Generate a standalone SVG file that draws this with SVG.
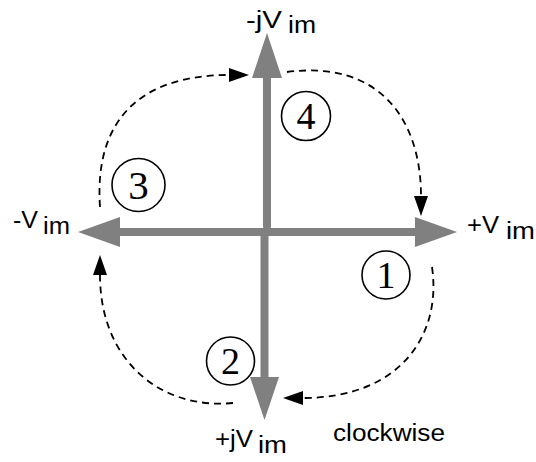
<svg xmlns="http://www.w3.org/2000/svg" width="536" height="462" viewBox="0 0 536 462">
<style>
.lbl{font-family:"Liberation Sans",Arial,sans-serif;font-size:23px;fill:#000}
.num{font-family:"Liberation Serif","Times New Roman",serif;font-size:38px;fill:#000;text-anchor:middle}
.ring{fill:none;stroke:#000;stroke-width:1.6}
.axis{stroke:#808080;stroke-width:8;fill:none}
.head{fill:#808080}
.dash{fill:none;stroke:#000;stroke-width:1.8;stroke-dasharray:7,5;marker-end:url(#ah)}
</style>
<defs>
<marker id="ah" viewBox="0 0 20 14" refX="0" refY="7" markerWidth="20" markerHeight="15" markerUnits="userSpaceOnUse" orient="auto">
<path d="M0,0 L20,7 L0,14 z" fill="#000"/>
</marker>
</defs>
<g id="axes">
<line class="axis" x1="118" y1="232" x2="417" y2="232"/>
<polygon class="head" points="78,232 120,217 120,247"/>
<polygon class="head" points="457,232 415,217 415,247"/>
<line class="axis" x1="267" y1="226" x2="267" y2="76" stroke-linecap="round"/>
<polygon class="head" points="267,33 252,78 282,78"/>
<line class="axis" x1="264.5" y1="232" x2="264.5" y2="380"/>
<polygon class="head" points="264.5,420 250,377 279,377"/>
</g>
<g id="connectors">
<path class="dash" d="M287,72 C380,60 421,120 421,196"/>
<path class="dash" d="M100,207 C94,120 140,75 229,75"/>
<path class="dash" d="M233,403 C160,410 100,360 100,275"/>
<path class="dash" d="M432,267 C442,335 400,398 303,398"/>
</g>
<g id="label-top"><text class="lbl" x="246" y="28" textLength="36" lengthAdjust="spacingAndGlyphs">-jV</text><text class="lbl" x="288" y="33" textLength="28" lengthAdjust="spacingAndGlyphs">im</text></g>
<g id="label-right"><text class="lbl" x="467" y="233" textLength="32" lengthAdjust="spacingAndGlyphs">+V</text><text class="lbl" x="506" y="239" textLength="29" lengthAdjust="spacingAndGlyphs">im</text></g>
<g id="label-left"><text class="lbl" x="13" y="228" textLength="25" lengthAdjust="spacingAndGlyphs">-V</text><text class="lbl" x="43" y="234" textLength="27" lengthAdjust="spacingAndGlyphs">im</text></g>
<g id="label-bottom"><text class="lbl" x="215" y="447" textLength="38" lengthAdjust="spacingAndGlyphs">+jV</text><text class="lbl" x="258" y="453" textLength="29" lengthAdjust="spacingAndGlyphs">im</text></g>
<g id="label-clockwise"><text class="lbl" x="333" y="441" textLength="112" lengthAdjust="spacingAndGlyphs">clockwise</text></g>
<g id="q1"><circle class="ring" cx="386" cy="275" r="24"/><text class="num" x="386" y="288">1</text></g>
<g id="q2"><circle class="ring" cx="230.5" cy="361" r="24"/><text class="num" x="230.5" y="374">2</text></g>
<g id="q3"><circle class="ring" cx="138.5" cy="185" r="26.5"/><text class="num" x="138.5" y="199" style="font-size:41px">3</text></g>
<g id="q4"><circle class="ring" cx="306" cy="116" r="24.5"/><text class="num" x="306" y="129">4</text></g>
</svg>
